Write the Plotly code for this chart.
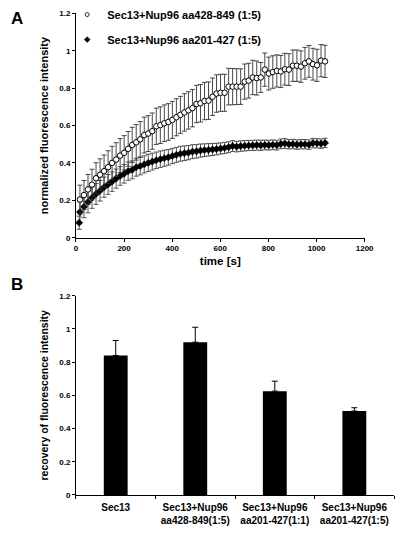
import plotly.graph_objects as go

# ---------------- Panel A data ----------------
dt = 16.7
open_label = "Sec13+Nup96 aa428-849 (1:5)"
filled_label = "Sec13+Nup96 aa201-427 (1:5)"

open_values = [
    0.204, 0.228, 0.258, 0.284, 0.318, 0.337, 0.356, 0.377, 0.400, 0.418,
    0.439, 0.454, 0.475, 0.496, 0.510, 0.526, 0.549, 0.557, 0.570, 0.596,
    0.602, 0.612, 0.619, 0.630, 0.644, 0.657, 0.670, 0.681, 0.693, 0.715,
    0.719, 0.731, 0.733, 0.754, 0.771, 0.775, 0.775, 0.808, 0.808, 0.808,
    0.808, 0.835, 0.840, 0.857, 0.854, 0.857, 0.899, 0.878, 0.886, 0.892,
    0.889, 0.901, 0.899, 0.920, 0.920, 0.915, 0.933, 0.943, 0.928, 0.922,
    0.947, 0.943,
]
open_errors = [
    0.077, 0.078, 0.080, 0.082, 0.083, 0.085, 0.086, 0.088, 0.089, 0.090,
    0.091, 0.092, 0.093, 0.094, 0.095, 0.095, 0.096, 0.096, 0.097, 0.097,
    0.098, 0.098, 0.098, 0.099, 0.099, 0.099, 0.100, 0.100, 0.100, 0.100,
    0.100, 0.100, 0.100, 0.100, 0.100, 0.099, 0.099, 0.098, 0.097, 0.096,
    0.095, 0.094, 0.093, 0.092, 0.091, 0.080, 0.089, 0.088, 0.087, 0.086,
    0.086, 0.085, 0.085, 0.084, 0.084, 0.084, 0.085, 0.085, 0.085, 0.086,
    0.086, 0.086,
]
open_times = [dt * (i + 1) for i in range(len(open_values))]

filled_values = [
    0.080, 0.137, 0.165, 0.191, 0.214, 0.234, 0.251, 0.270, 0.285, 0.300,
    0.316, 0.330, 0.342, 0.356, 0.363, 0.377, 0.383, 0.392, 0.400, 0.407,
    0.414, 0.420, 0.425, 0.430, 0.437, 0.443, 0.449, 0.452, 0.455, 0.460,
    0.462, 0.466, 0.468, 0.470, 0.472, 0.474, 0.477, 0.480, 0.484, 0.490,
    0.487, 0.490, 0.492, 0.493, 0.494, 0.495, 0.494, 0.496, 0.495, 0.497,
    0.495, 0.502, 0.504, 0.500, 0.501, 0.498, 0.500, 0.500, 0.498, 0.506,
    0.505, 0.503, 0.507,
]
filled_errors = [
    0.035, 0.055, 0.058, 0.058, 0.057, 0.056, 0.055, 0.054, 0.053, 0.052,
    0.051, 0.050, 0.050, 0.049, 0.048, 0.048, 0.047, 0.046, 0.046, 0.045,
    0.044, 0.044, 0.043, 0.042, 0.041, 0.040, 0.040, 0.039, 0.038, 0.037,
    0.036, 0.035, 0.034, 0.033, 0.032, 0.031, 0.030, 0.030, 0.029, 0.029,
    0.028, 0.028, 0.028, 0.027, 0.027, 0.027, 0.027, 0.026, 0.026, 0.026,
    0.026, 0.026, 0.026, 0.025, 0.025, 0.025, 0.025, 0.025, 0.025, 0.025,
    0.025, 0.025, 0.025,
]
filled_times = [13.5] + [dt * (i + 1) for i in range(len(filled_values) - 1)]

a_xticks = [0, 200, 400, 600, 800, 1000, 1200]
a_yticks = [0, 0.2, 0.4, 0.6, 0.8, 1, 1.2]

# ---------------- Panel B data ----------------
b_categories = [
    "Sec13",
    "Sec13+Nup96<br>aa428-849(1:5)",
    "Sec13+Nup96<br>aa201-427(1:1)",
    "Sec13+Nup96<br>aa201-427(1:5)",
]
b_values = [0.84, 0.92, 0.625, 0.505]
b_errors = [0.09, 0.09, 0.06, 0.02]
b_yticks = [0, 0.2, 0.4, 0.6, 0.8, 1, 1.2]

FONT = "Liberation Sans, Arial, sans-serif"
tickfont = dict(family=FONT, size=8, color="black", weight="bold")

fig = go.Figure()

filled_marker = dict(symbol="diamond", size=5.5, color="black",
                     line=dict(color="black", width=0.5))
open_marker = dict(symbol="circle", size=5.5, color="white",
                   line=dict(color="black", width=1))

fig.add_trace(go.Scatter(
    x=filled_times, y=filled_values, mode="markers", name=filled_label,
    showlegend=False, marker=filled_marker,
    error_y=dict(type="data", array=filled_errors, visible=True,
                 color="#444444", thickness=0.9, width=2.5),
    xaxis="x", yaxis="y",
))
fig.add_trace(go.Scatter(
    x=open_times, y=open_values, mode="markers", name=open_label,
    showlegend=False, marker=open_marker,
    error_y=dict(type="data", array=open_errors, visible=True,
                 color="#333333", thickness=0.9, width=2.5),
    xaxis="x", yaxis="y",
))
# legend entries (small symbols, as in the original key)
fig.add_trace(go.Scatter(
    x=[None], y=[None], mode="markers", name=open_label,
    legendgroup="a", legendrank=1,
    marker=dict(symbol="circle", size=4, color="white",
                line=dict(color="black", width=0.8)),
    xaxis="x", yaxis="y",
))
fig.add_trace(go.Scatter(
    x=[None], y=[None], mode="markers", name=filled_label,
    legendgroup="b", legendrank=2,
    marker=dict(symbol="diamond", size=4.5, color="black",
                line=dict(color="black", width=0.5)),
    xaxis="x", yaxis="y",
))

fig.add_trace(go.Bar(
    x=b_categories, y=b_values, width=0.3, showlegend=False,
    marker=dict(color="black", line=dict(width=0)),
    error_y=dict(type="data", array=b_errors, arrayminus=[0] * len(b_errors),
                 symmetric=False, visible=True, color="black",
                 thickness=1, width=3),
    xaxis="x2", yaxis="y2",
))

axis_common = dict(showgrid=False, zeroline=False, showline=True,
                   linecolor="black", linewidth=1, ticks="outside",
                   ticklen=3, tickcolor="black", tickfont=tickfont)

fig.update_layout(
    width=407, height=534,
    margin=dict(l=0, r=0, t=0, b=0),
    paper_bgcolor="white", plot_bgcolor="white",
    font=dict(family=FONT, color="black"),
    xaxis=dict(domain=[76 / 407, 372.7 / 407], range=[0, 1200],
               tickvals=a_xticks, anchor="y",
               title=dict(text="time [s]", standoff=4,
                          font=dict(family=FONT, size=11.5, weight="bold")),
               **axis_common),
    yaxis=dict(domain=[1 - 237.7 / 534, 1 - 9.5 / 534], range=[0, 1.2],
               tickvals=a_yticks, anchor="x",
               title=dict(text="normalized fluorescence intensity", standoff=8,
                          font=dict(family=FONT, size=11, weight="bold")),
               **axis_common),
    xaxis2=dict(domain=[76 / 407, 403 / 407], anchor="y2",
                tickson="boundaries", ticklabelstandoff=3,
                **{**axis_common,
                   "tickfont": dict(family=FONT, size=10, color="black",
                                    weight="bold"),
                   "ticklen": 3}),
    yaxis2=dict(domain=[1 - 499.3 / 534, 1 - 296.7 / 534], range=[0, 1.2],
                tickvals=b_yticks, anchor="x2",
                title=dict(text="recovery of fluorescence intensity",
                           standoff=8,
                           font=dict(family=FONT, size=10.5, weight="bold")),
                **axis_common),
    legend=dict(x=67 / 407, y=1 + 4 / 534, xanchor="left", yanchor="top",
                bgcolor="rgba(0,0,0,0)", tracegroupgap=6, itemwidth=30,
                font=dict(family=FONT, size=11, color="black", weight="bold")),
    showlegend=True,
    bargap=0.7,
    annotations=[
        dict(text="A", x=15 / 407, y=1 - 15 / 534, xref="paper", yref="paper",
             showarrow=False, xanchor="center", yanchor="middle",
             font=dict(family=FONT, size=17, weight="bold")),
        dict(text="B", x=15 / 407, y=1 - 285 / 534, xref="paper", yref="paper",
             showarrow=False, xanchor="center", yanchor="middle",
             font=dict(family=FONT, size=17, weight="bold")),
    ],
)

fig.write_html(
    "out.html",
    config={"displayModeBar": False},
    post_script="document.body.style.margin='0';document.body.style.overflow='hidden';",
)
